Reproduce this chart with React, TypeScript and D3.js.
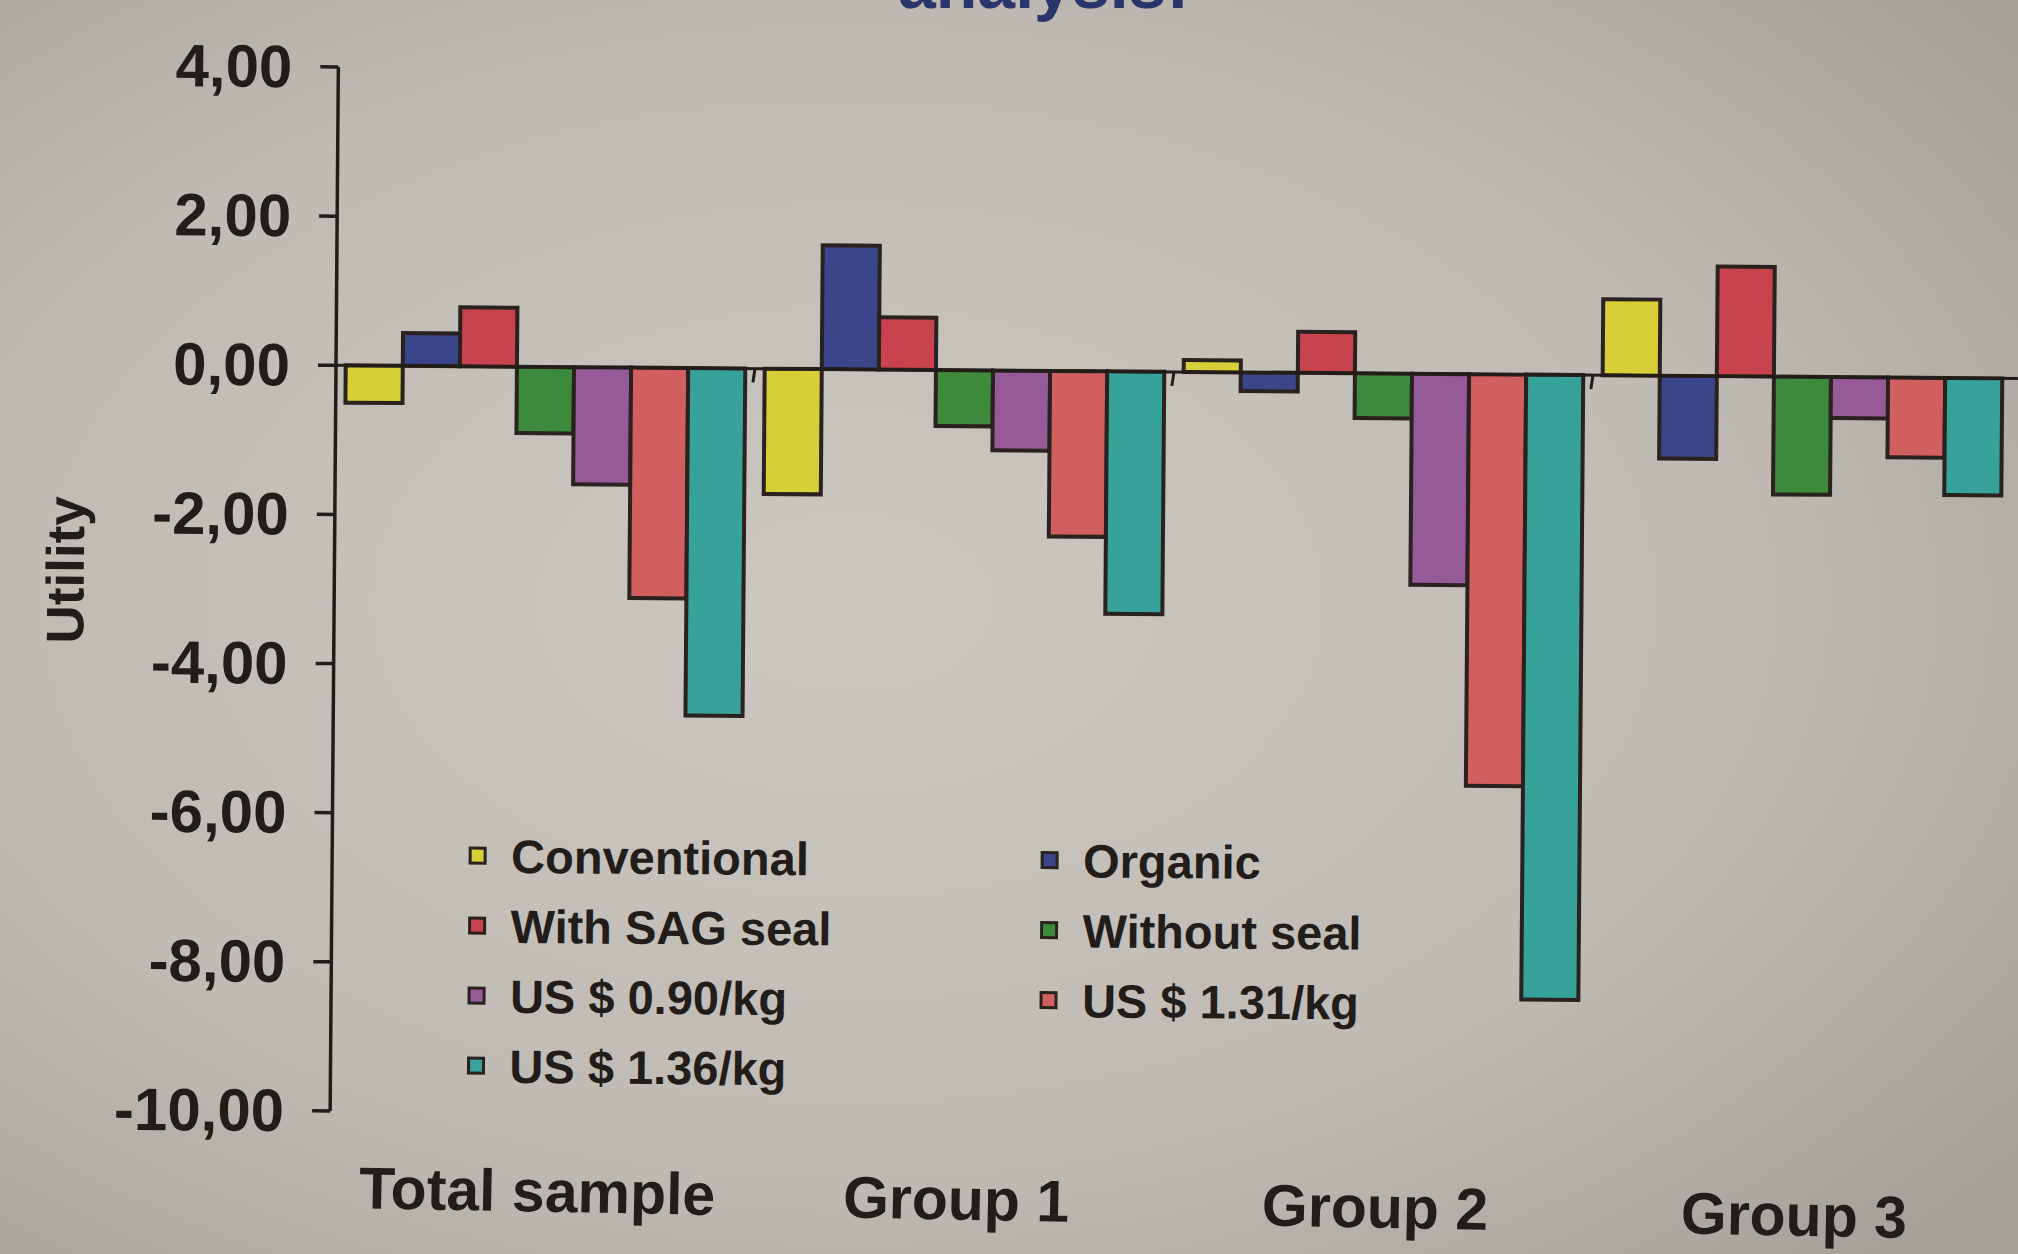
import React from 'react';
import * as d3 from 'd3';

const groups = ['Total sample', 'Group 1', 'Group 2', 'Group 3'];
const seriesNames = [
  'Conventional',
  'Organic',
  'With SAG seal',
  'Without seal',
  'US $ 0.90/kg',
  'US $ 1.31/kg',
  'US $ 1.36/kg',
];
const seriesColors = ['#d6cf38', '#3b4589', '#c9434e', '#3e8a3c', '#975a98', '#d15f60', '#37a29a'];

const totalSample = [-0.5, 0.44, 0.79, -0.89, -1.57, -3.09, -4.66];
const group1 = [-1.68, 1.66, 0.7, -0.75, -1.07, -2.22, -3.25];
const group2 = [0.16, -0.25, 0.55, -0.6, -2.83, -5.52, -8.38];
const group3 = [1.02, -1.11, 1.47, -1.58, -0.55, -1.07, -1.57];
const groupValues = [totalSample, group1, group2, group3];

const yTicks = [4, 2, 0, -2, -4, -6, -8, -10];
const yLabel = 'Utility';
const titleFragment = 'analysis:';

const W = 2018;
const H = 1254;
const FONT = '"Liberation Sans", Arial, Helvetica, sans-serif';
const INK = '#231d1a';

export default function App() {
  const xGroup = d3.scaleBand<string>().domain(groups).range([336, 2012]).paddingInner(0).paddingOuter(0);
  const xSeries = d3
    .scaleBand<string>()
    .domain(seriesNames)
    .range([0, xGroup.bandwidth()])
    .paddingInner(0)
    .paddingOuter(0.17);
  const y = d3.scaleLinear().domain([-10, 4]).range([1111, 67]);
  const fmt = (v: number) => d3.format('.2f')(v).replace('.', ',').replace('\u2212', '-');

  const axisX = 336;
  const y0 = y(0);

  return (
    <svg
      width={W}
      height={H}
      viewBox={`0 0 ${W} ${H}`}
      style={{ position: 'absolute', left: 0, top: 0, display: 'block' }}
    >
      <defs>
        <radialGradient id="bg" cx="42%" cy="48%" r="75%">
          <stop offset="0%" stopColor="#ccc7c1" />
          <stop offset="60%" stopColor="#c0bab4" />
          <stop offset="100%" stopColor="#a59f9a" />
        </radialGradient>
      </defs>
      <rect x={0} y={0} width={W} height={H} fill="url(#bg)" />

      <text x={898} y={8} fontFamily={FONT} fontWeight="bold" fontSize={68} fill="#2a356c">
        {titleFragment}
      </text>

      <g transform={`rotate(0.45, ${axisX}, ${y0})`}>
        {/* bars */}
        {groups.map((g, gi) => (
          <g key={g} transform={`translate(${xGroup(g)},0)`}>
            {groupValues[gi].map((v, si) => {
              const bx = xSeries(seriesNames[si]) as number;
              const top = Math.min(y(v), y0);
              const h = Math.abs(y(v) - y0);
              return (
                <rect
                  key={si}
                  x={bx}
                  y={top}
                  width={xSeries.bandwidth()}
                  height={h}
                  fill={seriesColors[si]}
                  stroke="#2a221e"
                  strokeWidth={4}
                />
              );
            })}
          </g>
        ))}

        {/* zero line */}
        <line x1={axisX} x2={2018} y1={y0} y2={y0} stroke={INK} strokeWidth={3} />
        {groups.slice(1).map((g) => (
          <line
            key={g}
            x1={xGroup(g) as number}
            x2={(xGroup(g) as number) - 2}
            y1={y0}
            y2={y0 + 14}
            stroke={INK}
            strokeWidth={3}
          />
        ))}

        {/* y axis */}
        <line x1={axisX} x2={axisX} y1={y(4)} y2={y(-10)} stroke={INK} strokeWidth={3.5} />
        {yTicks.map((t) => (
          <g key={t}>
            <line x1={axisX - 18} x2={axisX} y1={y(t)} y2={y(t)} stroke={INK} strokeWidth={3.5} />
            <text
              x={290}
              y={y(t)}
              textAnchor="end"
              dominantBaseline="central"
              fontFamily={FONT}
              fontWeight="bold"
              fontSize={60}
              fill={INK}
            >
              {fmt(t)}
            </text>
          </g>
        ))}

        <text
          transform={`translate(67, 572) rotate(-90)`}
          textAnchor="middle"
          dominantBaseline="central"
          fontFamily={FONT}
          fontWeight="bold"
          fontSize={53}
          fill={INK}
        >
          {yLabel}
        </text>

        {/* legend */}
        {seriesNames.map((s, i) => {
          const col = i % 2;
          const row = Math.floor(i / 2);
          const lx = col === 0 ? 474 : 1046;
          const ly = 855 + row * 70;
          return (
            <g key={s} transform={`translate(${lx}, ${ly})`}>
              <rect x={0} y={-8} width={15} height={15} fill={seriesColors[i]} stroke="#2a221e" strokeWidth={3} />
              <text
                x={41}
                y={0}
                dominantBaseline="central"
                fontFamily={FONT}
                fontWeight="bold"
                fontSize={47}
                fill={INK}
              >
                {s}
              </text>
            </g>
          );
        })}

        {/* category labels */}
        <g transform={`rotate(0.65, 545, 1205)`}>
          {groups.map((g) => (
            <text
              key={g}
              x={(xGroup(g) as number) + xGroup.bandwidth() / 2 - 2}
              y={1210}
              textAnchor="middle"
              fontFamily={FONT}
              fontWeight="bold"
              fontSize={59}
              fill={INK}
            >
              {g}
            </text>
          ))}
        </g>
      </g>
    </svg>
  );
}
